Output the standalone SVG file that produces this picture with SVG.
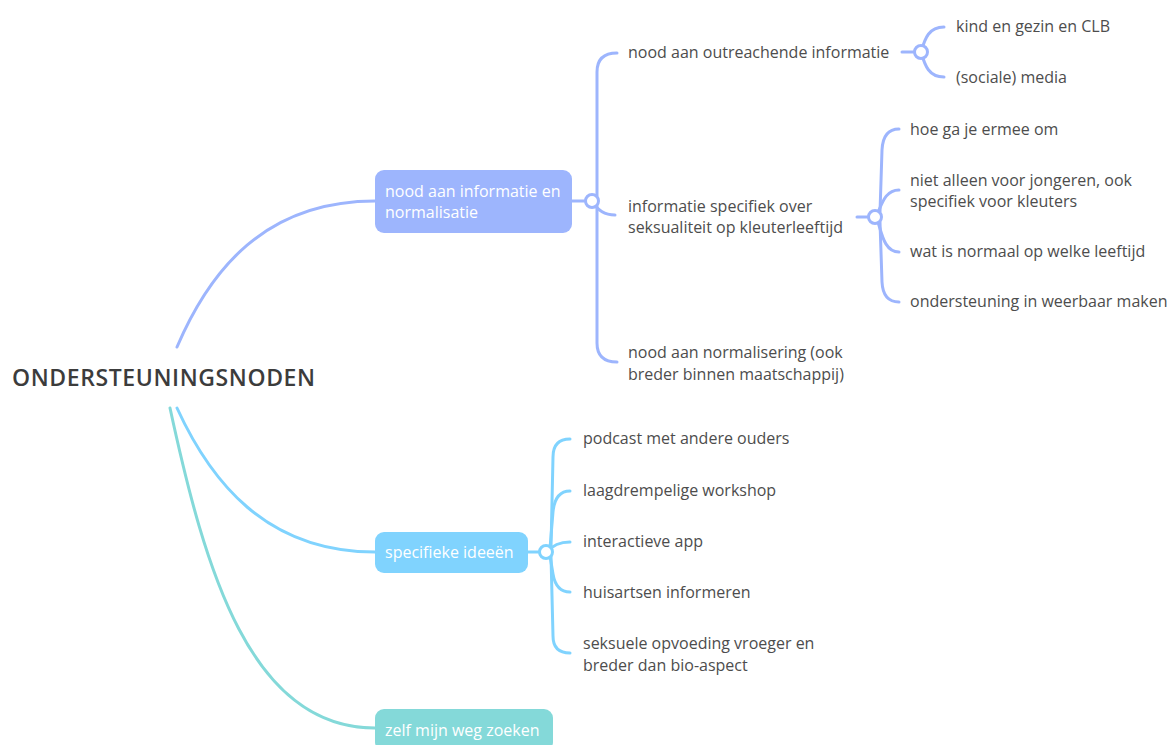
<svg xmlns="http://www.w3.org/2000/svg" width="1169" height="745" viewBox="0 0 1169 745">
<style>
.t{font-family:"Open Sans","Liberation Sans",sans-serif;font-size:16px;fill:#4d4d4d}
.w{font-family:"Open Sans","Liberation Sans",sans-serif;font-size:16px;fill:#ffffff}
.root{font-family:"Open Sans","Liberation Sans",sans-serif;font-size:23px;font-weight:600;letter-spacing:0.6px;fill:#3c3c3c}
.b{fill:none;stroke:#9db5fd;stroke-width:3;stroke-linecap:round}
.lb{fill:none;stroke:#80d3fe;stroke-width:3;stroke-linecap:round}
.tl{fill:none;stroke:#84d9d9;stroke-width:3;stroke-linecap:round}
.cb{fill:#fff;stroke:#9db5fd;stroke-width:3}
.clb{fill:#fff;stroke:#80d3fe;stroke-width:3}
</style>
<rect width="1169" height="745" fill="#ffffff"/>
<g id="connectors">
<path class="b" d="M177,347 C210,270 265,201 375,201"/>
<path class="lb" d="M177,408 C210,480 265,552 375,552"/>
<path class="tl" d="M170,408 C205,570 250,728 375,728"/>
<path class="b" d="M572,201 L586,201"/>
<path class="b" d="M597,196 L597,72 Q597,53 617,53"/>
<path class="b" d="M592,201 Q600,215 615,215"/>
<path class="b" d="M597,206 L597,343 Q597,362 617,362"/>
<path class="b" d="M902,52 L915,52"/>
<path class="b" d="M921,52 C925,38 929,27 944,27"/>
<path class="b" d="M921,52 C925,66 929,77 944,77"/>
<path class="b" d="M857,217 L869,217"/>
<path class="b" d="M880,212 L882,150 Q883,129 899,129"/>
<path class="b" d="M876,217 C882,204 885,190 899,190"/>
<path class="b" d="M878,222 C882,235 885,252 899,252"/>
<path class="b" d="M880,222 L882,282 Q883,302 899,302"/>
<path class="lb" d="M528,552 L540,552"/>
<path class="lb" d="M551,548 L553,457 Q553,439 570,439"/>
<path class="lb" d="M550,548 L553,512 Q555,491 570,491"/>
<path class="lb" d="M547,552 Q555,542 570,542"/>
<path class="lb" d="M550,556 L553,574 Q556,592 570,592"/>
<path class="lb" d="M551,556 L553,636 Q553,653 570,653"/>
</g>
<g id="root"><text class="root" x="12" y="386">ONDERSTEUNINGSNODEN</text></g>
<g id="n1">
<rect x="375" y="170" width="197" height="63" rx="9" fill="#9db5fd"/>
<text class="w" x="385" y="197">nood aan informatie en</text>
<text class="w" x="385" y="218">normalisatie</text>
<circle class="cb" cx="592" cy="201" r="6.5"/>
</g>
<g id="n1a"><text class="t" x="628" y="58">nood aan outreachende informatie</text><circle class="cb" cx="921" cy="52" r="6.5"/></g>
<g id="n1a1"><text class="t" x="956" y="32">kind en gezin en CLB</text></g>
<g id="n1a2"><text class="t" x="956" y="83">(sociale) media</text></g>
<g id="n1b"><text class="t" x="628" y="212">informatie specifiek over</text><text class="t" x="628" y="233">seksualiteit op kleuterleeftijd</text><circle class="cb" cx="875" cy="217" r="6.5"/></g>
<g id="n1b1"><text class="t" x="910" y="135">hoe ga je ermee om</text></g>
<g id="n1b2"><text class="t" x="910" y="186">niet alleen voor jongeren, ook</text><text class="t" x="910" y="207">specifiek voor kleuters</text></g>
<g id="n1b3"><text class="t" x="910" y="257">wat is normaal op welke leeftijd</text></g>
<g id="n1b4"><text class="t" x="910" y="307">ondersteuning in weerbaar maken</text></g>
<g id="n1c"><text class="t" x="628" y="358">nood aan normalisering (ook</text><text class="t" x="628" y="380">breder binnen maatschappij)</text></g>
<g id="n2">
<rect x="375" y="532" width="153" height="41" rx="9" fill="#80d3fe"/>
<text class="w" x="385" y="558">specifieke ideeën</text>
<circle class="clb" cx="546" cy="552" r="6.5"/>
</g>
<g id="n2a"><text class="t" x="583" y="444">podcast met andere ouders</text></g>
<g id="n2b"><text class="t" x="583" y="496">laagdrempelige workshop</text></g>
<g id="n2c"><text class="t" x="583" y="547">interactieve app</text></g>
<g id="n2d"><text class="t" x="583" y="598">huisartsen informeren</text></g>
<g id="n2e"><text class="t" x="583" y="649">seksuele opvoeding vroeger en</text><text class="t" x="583" y="671">breder dan bio-aspect</text></g>
<g id="n3">
<rect x="375" y="709" width="178" height="42" rx="9" fill="#84d9d9"/>
<text class="w" x="385" y="736">zelf mijn weg zoeken</text>
</g>
</svg>
